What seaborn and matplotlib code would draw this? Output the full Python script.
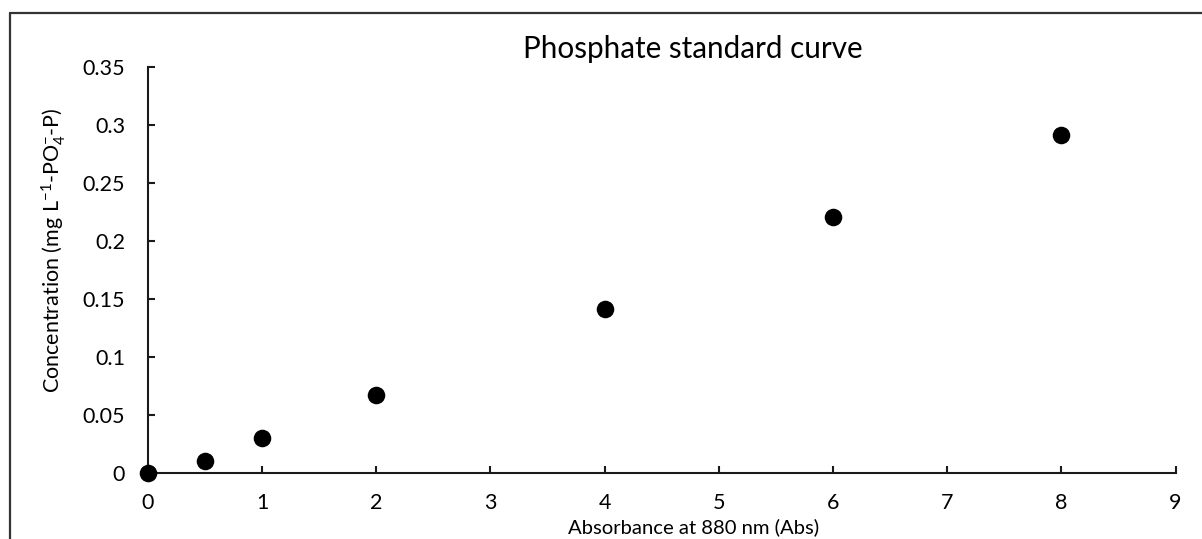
import matplotlib
matplotlib.use("Agg")
import matplotlib.pyplot as plt
import seaborn as sns
import pandas as pd
from matplotlib.lines import Line2D

# Standard series: absorbance readings and phosphate concentrations
absorbance = [0, 0.5, 1, 2, 4, 6, 8]
concentration = [0, 0.0103, 0.0301, 0.0674, 0.1415, 0.2205, 0.2908]
x_ticks = [0, 1, 2, 3, 4, 5, 6, 7, 8, 9]
y_ticks = [0, 0.05, 0.1, 0.15, 0.2, 0.25, 0.3, 0.35]
y_tick_labels = ["0", "0.05", "0.1", "0.15", "0.2", "0.25", "0.3", "0.35"]

sns.set_theme(style="white")
plt.rcParams["font.family"] = ["Lato", "DejaVu Sans"]
plt.rcParams["mathtext.default"] = "regular"

df = pd.DataFrame({"Absorbance": absorbance, "Concentration": concentration})

fig = plt.figure(figsize=(12.02, 5.39), dpi=100)
ax = fig.add_axes([0.1231, 0.1219, 0.978 - 0.1231, 0.8763 - 0.1219])

sns.scatterplot(data=df, x="Absorbance", y="Concentration", ax=ax,
                color="black", s=160, edgecolor="black", linewidth=0,
                clip_on=False, zorder=5)

ax.set_xlim(0, 9)
ax.set_ylim(0, 0.35)
ax.set_xticks(x_ticks)
ax.set_xticklabels([str(v) for v in x_ticks])
ax.set_yticks(y_ticks)
ax.set_yticklabels(y_tick_labels)

for side in ("top", "right"):
    ax.spines[side].set_visible(False)
for side in ("left", "bottom"):
    ax.spines[side].set_color("#1a1a1a")
    ax.spines[side].set_linewidth(1.5)

ax.tick_params(axis="both", direction="in", length=5, width=1.5,
               color="#1a1a1a", labelsize=15.5, labelcolor="black")
ax.tick_params(axis="x", pad=14.5, bottom=True)
ax.tick_params(axis="y", pad=16.5, left=True)

ax.set_xlabel("")
ax.set_ylabel("")
fig.text(0.5774, 1 - 533 / 539, "Absorbance at 880 nm (Abs)", ha="center",
         va="baseline", fontsize=14.6, color="black")
fig.text(0.045, 1 - 250 / 539, "Concentration (mg L$^{-1}$-PO$_4^{-}$-P)",
         rotation=90, ha="center", va="center", fontsize=15.5, color="black")
fig.text(0.5765, 1 - 58 / 539, "Phosphate standard curve", ha="center",
         va="baseline", fontsize=21.3, color="black")

# Chart frame (top and left edges)
fig.add_artist(Line2D([10 / 1202, 1.0], [1 - 13 / 539, 1 - 13 / 539],
                      transform=fig.transFigure, color="#333333", lw=1.6))
fig.add_artist(Line2D([10 / 1202, 10 / 1202], [0.0, 1 - 13 / 539],
                      transform=fig.transFigure, color="#333333", lw=1.6))

fig.savefig("out.png", dpi=100, facecolor="white")
